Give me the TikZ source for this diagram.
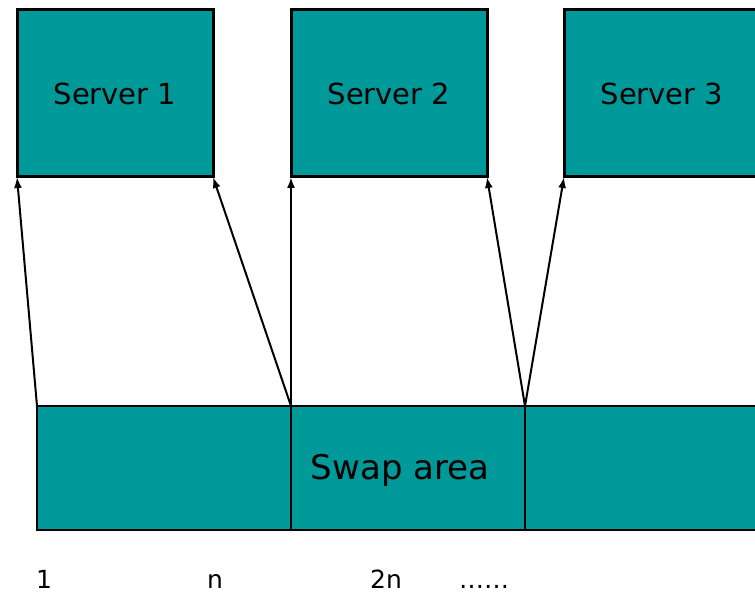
\documentclass[tikz,border=0pt]{standalone}
\usepackage{fontspec}
\setmainfont{DejaVu Sans}
\usetikzlibrary{arrows.meta}
\definecolor{teal}{RGB}{0,153,153}
\tikzset{
  server/.style={draw=black, line width=3pt, fill=teal, minimum width=196pt,
    minimum height=167pt, inner sep=0pt, outer sep=0pt, font=\fontsize{29}{34}\selectfont},
  seg/.style={draw=black, line width=2.6pt, fill=teal, minimum height=124pt,
    inner sep=0pt, outer sep=0pt},
  feed/.style={line width=2pt, -{Latex[length=11pt,width=8pt]}},
  idx/.style={font=\fontsize{25}{30}\selectfont, inner sep=0pt, anchor=base}
}
\begin{document}
\begin{tikzpicture}[x=1pt,y=-1pt]
\useasboundingbox (0,0) rectangle (755,596);
\clip (0,0) rectangle (755,596);

% servers
\node[server] (srv1) at (115,93.5) {Server 1};
\node[server] (srv2) at (389,93.5) {Server 2};
\node[server] (srv3) at (662,93.5) {Server 3};

% swap area, split into per-server segments
\node[seg, minimum width=254pt] (s1) at (164,468) {};
\node[seg, minimum width=234pt] (s2) at (408,468) {};
\node[seg, minimum width=275pt] (s3) at (662.5,468) {};
\node[font=\fontsize{34}{40}\selectfont, inner sep=0pt] (swap) at (400,470) {Swap area};

% mapping of segment boundaries to servers
\draw[feed] (s1.north west) -- (srv1.south west);
\draw[feed] (s2.north west) -- (srv1.south east);
\draw[feed] (s2.north west) -- (srv2.south west);
\draw[feed] (s3.north west) -- (srv2.south east);
\draw[feed] (s3.north west) -- (srv3.south west);
\draw[feed] (s3.north east) -- (srv3.south east);

% indices
\node[idx] (i1) at (44,588) {1};
\node[idx] (in) at (215,588) {n};
\node[idx] (i2n) at (386,588) {2n};
\node[idx] (idots) at (484,588) {……};
\end{tikzpicture}
\end{document}
